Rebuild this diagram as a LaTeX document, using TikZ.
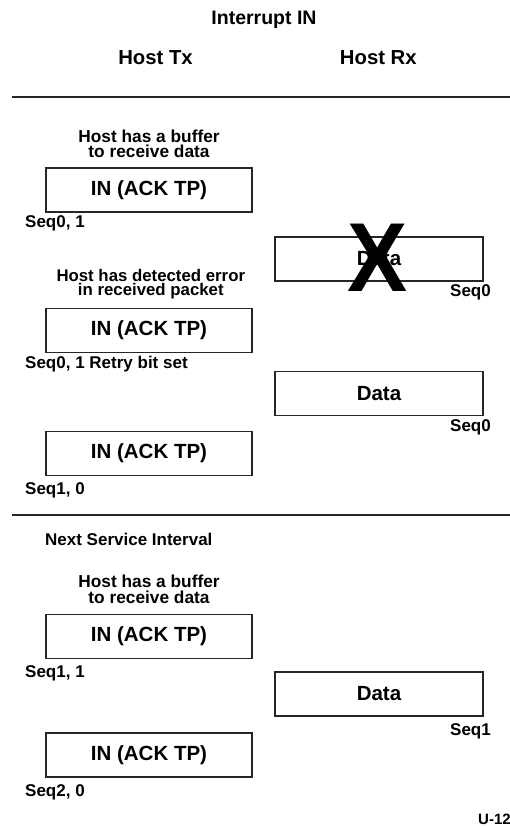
\documentclass[tikz,border=0pt]{standalone}
\usepackage{fontspec}
\setmainfont{Liberation Sans}
\begin{document}
\begin{tikzpicture}[x=1pt,y=-1pt,
  frame/.style={draw=black!85, line width=1.2pt, minimum width=206pt, minimum height=44pt, inner sep=0pt, font=\fontsize{20.5}{22}\selectfont\bfseries},
  dframe/.style={frame, minimum width=208pt},
  lbl/.style={font=\fontsize{17}{16}\selectfont\bfseries, inner sep=0pt},
  note/.style={font=\fontsize{17.3}{16}\selectfont\bfseries, inner sep=0pt, align=center},
  head/.style={font=\fontsize{20.3}{22}\selectfont\bfseries, inner sep=0pt},
  rule/.style={draw=black!85, line width=1.2pt}]
\useasboundingbox (0,0) rectangle (510,826);

% headings
\node[head, font=\fontsize{19.5}{22}\selectfont\bfseries, anchor=base] (title) at (264,25) {Interrupt IN};
\node[head, anchor=base] (htx) at (155.5,64.3) {Host Tx};
\node[head, anchor=base] (hrx) at (378.3,64.3) {Host Rx};
\coordinate (r1a) at (12,97); \coordinate (r1b) at (510,97);
\draw[rule] (r1a) -- (r1b);

% group 1
\node[note, anchor=base] (n1a) at (149,142.5) {Host has a buffer};
\node[note, anchor=base] (n1b) at (149,158) {to receive data};
\node[frame] (b1) at (149,190) {IN (ACK TP)};
\node[lbl, anchor=base west] (s1) at (25,227.5) {Seq0, 1};

% crossed data
\node[dframe] (d1) at (379,259) {Data};
\node[lbl, anchor=base east] (sd1) at (491,296.5) {Seq0};
\node[font=\fontsize{98}{98}\selectfont\bfseries, inner sep=0pt, xscale=0.92] (cross) at (378,258) {X};

% group 2
\node[note, font=\fontsize{16.8}{16}\selectfont\bfseries, anchor=base] (n2a) at (150.8,281.5) {Host has detected error};
\node[note, font=\fontsize{16.8}{16}\selectfont\bfseries, anchor=base] (n2b) at (150.8,295.5) {in received packet};
\node[frame] (b2) at (149,330.5) {IN (ACK TP)};
\node[lbl, anchor=base west] (s2) at (25,368) {Seq0, 1 Retry bit set};

\node[dframe] (d2) at (379,393.5) {Data};
\node[lbl, anchor=base east] (sd2) at (491,431) {Seq0};

% group 3
\node[frame] (b3) at (149,453.5) {IN (ACK TP)};
\node[lbl, anchor=base west] (s3) at (25,494) {Seq1, 0};

\coordinate (r2a) at (12,515); \coordinate (r2b) at (510,515);
\draw[rule] (r2a) -- (r2b);

\node[lbl, anchor=base west] (nsi) at (45,545) {Next Service Interval};

% group 4
\node[note, anchor=base] (n4a) at (149,587) {Host has a buffer};
\node[note, anchor=base] (n4b) at (149,603) {to receive data};
\node[frame] (b4) at (149,636.5) {IN (ACK TP)};
\node[lbl, anchor=base west] (s4) at (25,677) {Seq1, 1};

\node[dframe] (d3) at (379,694) {Data};
\node[lbl, anchor=base east] (sd3) at (491,735) {Seq1};

\node[frame] (b5) at (149,755) {IN (ACK TP)};
\node[lbl, anchor=base west] (s5) at (25,796) {Seq2, 0};

\node[lbl, font=\fontsize{15}{16}\selectfont\bfseries, anchor=base west] (fig) at (478,824) {U-12};
\end{tikzpicture}
\end{document}
